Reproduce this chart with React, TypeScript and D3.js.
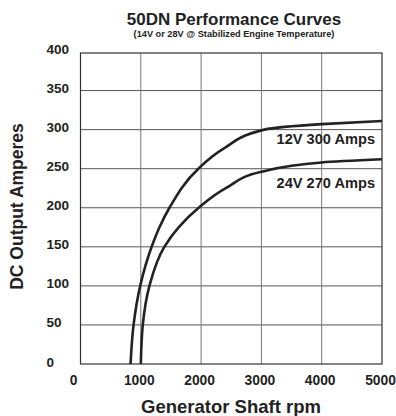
import React from "react";
import * as d3 from "d3";

const xTicks = [0, 1000, 2000, 3000, 4000, 5000];
const yTicks = [0, 50, 100, 150, 200, 250, 300, 350, 400];

const rpm12V = [830, 880, 990, 1180, 1310, 1475, 1955, 2360, 3050, 4000, 5000];
const amps12V = [0, 50, 100, 150, 175, 200, 250, 275, 300, 307, 311];

const rpm24V = [1000, 1033, 1143, 1390, 1627, 1960, 2410, 3000, 4000, 5000];
const amps24V = [0, 50, 100, 150, 175, 200, 225, 246, 258, 262];

const seriesLabels = ["12V 300 Amps", "24V 270 Amps"];

const W = 396;
const H = 416;
const FONT = "'Liberation Sans', Arial, Helvetica, sans-serif";

export default function App() {
  const x = d3.scaleLinear().domain([0, 5000]).range([80.5, 382]);
  const y = d3.scaleLinear().domain([0, 400]).range([364, 51.5]);

  const line = d3
    .line<[number, number]>()
    .x((d) => x(d[0]))
    .y((d) => y(d[1]))
    .curve(d3.curveMonotoneY);

  const s12 = rpm12V.map((r, i) => [r, amps12V[i]] as [number, number]);
  const s24 = rpm24V.map((r, i) => [r, amps24V[i]] as [number, number]);

  const top = y(400) + 1.5;

  return (
    <svg
      width={W}
      height={H}
      style={{ position: "absolute", left: 0, top: 0, background: "#fff" }}
      fontFamily={FONT}
    >
      <text x={234} y={24.5} textAnchor="middle" fontSize={17} fontWeight="bold" fill="#222">
        50DN Performance Curves
      </text>
      <text x={234} y={37} textAnchor="middle" fontSize={9.2} fontWeight="bold" fill="#222">
        (14V or 28V @ Stabilized Engine Temperature)
      </text>

      {yTicks.slice(1, -1).map((t) => (
        <line key={"h" + t} x1={x(0)} x2={x(5000)} y1={y(t)} y2={y(t)} stroke="#555" strokeWidth={1} />
      ))}
      {xTicks.slice(1, -1).map((t) => (
        <line key={"v" + t} x1={x(t)} x2={x(t)} y1={top} y2={y(0)} stroke="#777" strokeWidth={1} />
      ))}
      <rect
        x={x(0)}
        y={top}
        width={x(5000) - x(0)}
        height={y(0) - top}
        fill="none"
        stroke="#333"
        strokeWidth={1.2}
      />

      <path d={line(s12) || ""} fill="none" stroke="#222" strokeWidth={2.6} />
      <path d={line(s24) || ""} fill="none" stroke="#222" strokeWidth={2.6} />

      <text x={375} y={144} textAnchor="end" fontSize={14.6} fontWeight="bold" fill="#222">
        {seriesLabels[0]}
      </text>
      <text x={375} y={187.5} textAnchor="end" fontSize={14.6} fontWeight="bold" fill="#222">
        {seriesLabels[1]}
      </text>

      {yTicks.map((t) => (
        <text key={"yl" + t} x={46.5} y={y(t) + 2.5} fontSize={13.5} fontWeight="bold" fill="#222">
          {t}
        </text>
      ))}
      {xTicks.map((t) => (
        <text
          key={"xl" + t}
          x={x(t) - (t === 0 ? 7 : 1.5)}
          y={384.5}
          textAnchor="middle"
          fontSize={13.8}
          fontWeight="bold"
          fill="#222"
        >
          {t}
        </text>
      ))}

      <text x={231} y={412.5} textAnchor="middle" fontSize={18.5} fontWeight="bold" fill="#222">
        Generator Shaft rpm
      </text>
      <text
        transform={`translate(23,206.5) rotate(-90)`}
        textAnchor="middle"
        fontSize={17.5}
        fontWeight="bold"
        fill="#222"
      >
        DC Output Amperes
      </text>
    </svg>
  );
}
